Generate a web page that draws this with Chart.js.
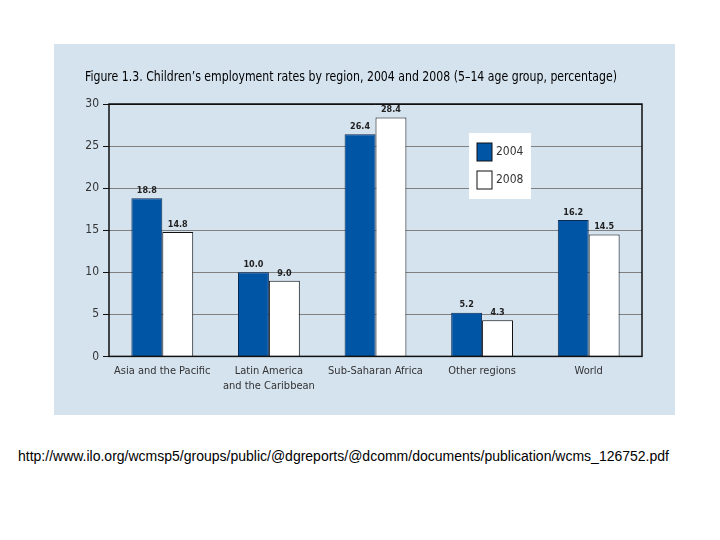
<!DOCTYPE html>
<html>
<head>
<meta charset="utf-8">
<title>Children's employment rates by region</title>
<script src="https://cdn.jsdelivr.net/npm/chart.js@4"></script>
<style>
  body { margin: 0; background: #fff; width: 720px; height: 540px; position: relative; overflow: hidden; }
  #panel { position: absolute; left: 54px; top: 44px; width: 621px; height: 371px; background: #d5e3ef; }
  #src { position: absolute; left: 18px; top: 448px; font: 14px "Liberation Sans", Arial, sans-serif; color: #000; white-space: nowrap; }
</style>
</head>
<body>
<div id="panel"><canvas id="myChart"></canvas></div>
<div id="src">http://www.ilo.org/wcmsp5/groups/public/@dgreports/@dcomm/documents/publication/wcms_126752.pdf</div>
<script>
const regions = ['Asia and the Pacific', ['Latin America', 'and the Caribbean'], 'Sub-Saharan Africa', 'Other regions', 'World'];
const rates2004 = [18.8, 10.0, 26.4, 5.2, 16.2];
const rates2008 = [14.8, 9.0, 28.4, 4.3, 14.5];
const yTicks = [0, 5, 10, 15, 20, 25, 30];
const titleText = "Figure 1.3. Children\u2019s employment rates by region, 2004 and 2008 (5\u201314 age group, percentage)";

const narrow = '"Liberation Sans Narrow", "DejaVu Sans Condensed", sans-serif';

// figure title, squeezed to the width it has in the print
const figureTitle = {
  id: 'figureTitle',
  afterDraw(chart) {
    const ctx = chart.ctx;
    ctx.save();
    ctx.font = '14px ' + narrow;
    ctx.fillStyle = '#000';
    ctx.textAlign = 'left';
    ctx.textBaseline = 'middle';
    ctx.fillText(titleText, 31, 33, 532);
    ctx.restore();
  }
};

// value labels above every bar
const barLabels = {
  id: 'barLabels',
  afterDatasetsDraw(chart) {
    const ctx = chart.ctx;
    ctx.save();
    ctx.font = 'bold 9px ' + narrow;
    ctx.fillStyle = '#222';
    ctx.textAlign = 'center';
    ctx.textBaseline = 'bottom';
    chart.data.datasets.forEach((ds, i) => {
      chart.getDatasetMeta(i).data.forEach((bar, j) => {
        ctx.fillText(ds.data[j].toFixed(1), bar.x, bar.y - 3);
      });
    });
    ctx.restore();
  }
};

// black frame round the plot and the small legend box inside it
const frameAndLegend = {
  id: 'frameAndLegend',
  afterDraw(chart) {
    const ctx = chart.ctx;
    const a = chart.chartArea;
    ctx.save();
    ctx.strokeStyle = '#111';
    ctx.lineWidth = 1.5;
    ctx.strokeRect(a.left, a.top, a.right - a.left, a.bottom - a.top);

    const bx = a.left + 360, by = a.top + 29;
    ctx.fillStyle = '#fff';
    ctx.fillRect(bx, by, 62, 66);
    ctx.font = '12px ' + narrow;
    ctx.textBaseline = 'middle';
    ctx.textAlign = 'left';
    chart.data.datasets.forEach((ds, i) => {
      const sy = by + 10 + i * 28;
      ctx.fillStyle = ds.backgroundColor;
      ctx.fillRect(bx + 8, sy, 15, 18);
      ctx.strokeStyle = '#111';
      ctx.lineWidth = 1;
      ctx.strokeRect(bx + 8, sy, 15, 18);
      ctx.fillStyle = '#333';
      ctx.fillText(ds.label, bx + 27, sy + 9);
    });
    ctx.restore();
  }
};

const ctx = document.querySelector('#myChart').getContext('2d');
const chart = new Chart(ctx, {
  type: 'bar',
  data: {
    labels: regions,
    datasets: [
      { label: '2004', data: rates2004, backgroundColor: '#0055a5', borderColor: '#0a2a55', borderWidth: 1 },
      { label: '2008', data: rates2008, backgroundColor: '#ffffff', borderColor: '#111', borderWidth: 1 }
    ]
  },
  options: {
    responsive: true,
    maintainAspectRatio: false,
    animation: false,
    layout: { padding: { left: 31, right: 33, top: 60, bottom: 22 } },
    datasets: { bar: { categoryPercentage: 0.58, barPercentage: 1 } },
    plugins: {
      legend: { display: false },
      tooltip: { enabled: false },
      title: { display: false }
    },
    scales: {
      x: {
        grid: { display: false },
        border: { display: false },
        ticks: { color: '#333', font: { family: narrow, size: 11, lineHeight: 1.3 }, padding: 0, maxRotation: 0, autoSkip: false }
      },
      y: {
        min: 0,
        max: 30,
        afterBuildTicks: (scale) => { scale.ticks = yTicks.map(v => ({ value: v })); },
        afterFit: (scale) => { scale.width = 24; },
        border: { display: false },
        grid: {
          color: (c) => (c.tick.value === 0 || c.tick.value === 30) ? '#111' : '#808080',
          tickColor: '#111',
          tickLength: 6,
          lineWidth: 1
        },
        ticks: { color: '#333', font: { family: narrow, size: 12 }, padding: 4 }
      }
    }
  },
  plugins: [figureTitle, barLabels, frameAndLegend]
});
</script>
</body>
</html>
